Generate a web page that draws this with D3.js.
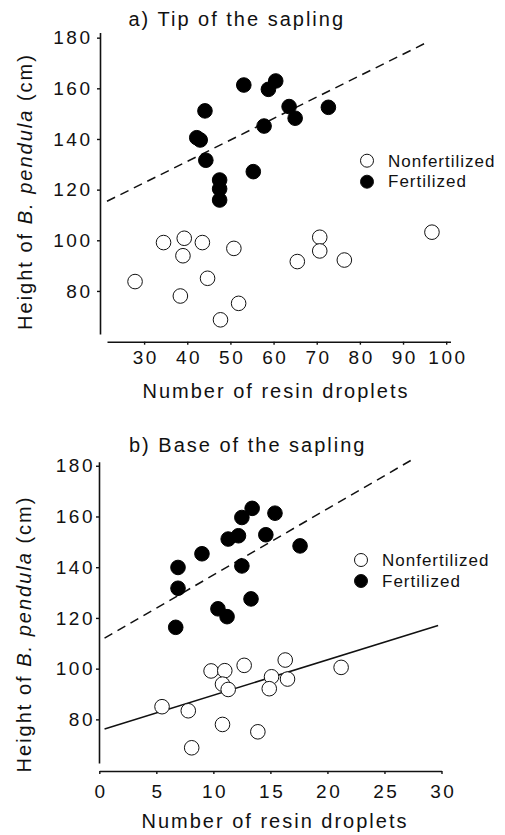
<!DOCTYPE html>
<html>
<head>
<meta charset="utf-8">
<script src="https://cdn.jsdelivr.net/npm/d3@7"></script>
<style>
  body { margin: 0; background: #fff; }
  svg text { font-family: "Liberation Sans", Arial, sans-serif; fill: #111; }
</style>
</head>
<body>
<div id="chart"></div>
<script>
// --- data ---
const yTicks = [80, 100, 120, 140, 160, 180];
const xTicksA = [30, 40, 50, 60, 70, 80, 90, 100];
const xTicksB = [0, 5, 10, 15, 20, 25, 30];
const legendLabels = ['Nonfertilized', 'Fertilized'];

// a) tip of the sapling
const tipFertX = [53.1, 58.8, 60.5, 44.1, 63.6, 65.0, 72.7, 57.8, 42.2, 43.0, 44.3, 55.3, 47.5, 47.5, 47.5];
const tipFertY = [161.3, 159.6, 162.9, 151.1, 152.8, 148.2, 152.5, 145.1, 140.5, 139.6, 131.6, 127.1, 123.8, 120.3, 115.9];
const tipNonX = [27.9, 34.5, 39.3, 39.0, 43.5, 38.4, 44.7, 47.7, 50.8, 51.9, 65.5, 70.7, 70.7, 76.4, 96.7];
const tipNonY = [83.7, 99.1, 100.8, 93.9, 99.1, 78.0, 85.0, 68.6, 96.8, 75.1, 91.6, 101.2, 95.8, 92.2, 103.2];
const tipFertLine = [[21.4, 115.4], [95.6, 178.2]];

// b) base of the sapling
const baseFertX = [6.9, 6.9, 6.7, 9.0, 12.5, 13.4, 15.4, 11.3, 12.2, 14.6, 12.5, 10.4, 11.2, 13.3, 17.6];
const baseFertY = [139.9, 131.7, 116.3, 145.3, 159.6, 163.2, 161.3, 151.1, 152.4, 152.8, 140.5, 123.6, 120.5, 127.5, 148.4];
const baseNonX = [5.5, 7.8, 8.1, 9.8, 11.0, 10.8, 11.3, 12.7, 10.8, 13.9, 15.1, 14.9, 16.3, 16.5, 21.2];
const baseNonY = [85.0, 83.4, 68.8, 99.1, 99.2, 93.9, 91.8, 101.3, 78.0, 75.1, 96.8, 92.1, 103.4, 95.9, 100.5];
const baseFertLine = [[0.46, 112.0], [27.5, 182.6]];
const baseNonLine = [[0.46, 76.2], [29.7, 117.0]];

const WIDTH = 505;
const HEIGHT = 835;

const svg = d3.select('#chart').append('svg')
  .attr('width', WIDTH)
  .attr('height', HEIGHT);

const zip = (xs, ys) => xs.map((x, i) => ({ x: x, y: ys[i] }));

function drawPanel(p) {
  const g = svg.append('g');

  const x = d3.scaleLinear().domain(p.xDomain).range(p.xRange);
  const y = d3.scaleLinear().domain(p.yDomain).range(p.yRange);

  // axes
  const yAxis = g.append('g')
    .attr('transform', `translate(${p.yAxisX},0)`)
    .call(d3.axisLeft(y).tickValues(yTicks).tickSize(3).tickSizeOuter(0).tickPadding(p.yPad));
  const xAxis = g.append('g')
    .attr('transform', `translate(0,${p.xAxisY})`)
    .call(d3.axisBottom(x).tickValues(p.xTicks).tickSize(3).tickSizeOuter(0).tickPadding(p.xPad));

  [yAxis, xAxis].forEach(a => {
    a.select('.domain').attr('stroke', '#111').attr('stroke-width', 1.6);
    a.selectAll('.tick line').attr('stroke', '#111').attr('stroke-width', 1.4);
    a.selectAll('.tick text')
      .attr('fill', '#111')
      .style('font-size', '19px')
      .style('letter-spacing', '2.5px')
      .style('font-family', '"Liberation Sans", Arial, sans-serif');
  });
  // letter-spacing leaves a trailing gap, recentre the labels
  xAxis.selectAll('.tick text').attr('dx', 1.25);

  // regression lines
  const line = d3.line().x(d => x(d[0])).y(d => y(d[1]));
  p.lines.forEach(l => {
    g.append('path')
      .attr('d', line(l.pts))
      .attr('fill', 'none')
      .attr('stroke', '#111')
      .attr('stroke-width', 1.5)
      .attr('stroke-dasharray', l.dashed ? '9,6' : null);
  });

  // points
  g.selectAll('circle.non')
    .data(p.non)
    .enter()
    .append('circle')
    .attr('class', 'non')
    .attr('cx', d => x(d.x))
    .attr('cy', d => y(d.y))
    .attr('r', 7.3)
    .attr('fill', '#fff')
    .attr('stroke', '#111')
    .attr('stroke-width', 1);

  g.selectAll('circle.fert')
    .data(p.fert)
    .enter()
    .append('circle')
    .attr('class', 'fert')
    .attr('cx', d => x(d.x))
    .attr('cy', d => y(d.y))
    .attr('r', 7.3)
    .attr('fill', '#000')
    .attr('stroke', '#000')
    .attr('stroke-width', 1);

  // title
  g.append('text')
    .attr('x', p.titleX)
    .attr('y', p.titleY)
    .style('font-size', '20px')
    .style('letter-spacing', '2px')
    .text(p.title);

  // axis titles
  g.append('text')
    .attr('x', p.xTitleX)
    .attr('y', p.xTitleY)
    .attr('text-anchor', 'middle')
    .style('font-size', '20px')
    .style('letter-spacing', '2px')
    .text('Number of resin droplets');

  const yt = g.append('text')
    .attr('transform', `translate(${p.yTitleX},${p.yTitleY}) rotate(-90)`)
    .attr('text-anchor', 'middle')
    .style('font-size', '20px')
    .style('letter-spacing', '2px');
  yt.append('tspan').text('Height of ');
  yt.append('tspan').style('font-style', 'italic').text('B. pendula');
  yt.append('tspan').text(' (cm)');

  // legend
  const legend = g.append('g')
    .attr('transform', `translate(${p.legendX},${p.legendY})`);
  legend.selectAll('circle')
    .data(legendLabels)
    .enter()
    .append('circle')
    .attr('cx', 0)
    .attr('cy', (d, i) => i * 21)
    .attr('r', 6.5)
    .attr('fill', (d, i) => i === 0 ? '#fff' : '#000')
    .attr('stroke', '#111')
    .attr('stroke-width', 1);
  legend.selectAll('text')
    .data(legendLabels)
    .enter()
    .append('text')
    .attr('x', 21)
    .attr('y', (d, i) => i * 20.5 + 6.3)
    .style('font-size', '17px')
    .style('letter-spacing', '1px')
    .text(d => d);
}

drawPanel({
  title: 'a) Tip of the sapling',
  xDomain: [21.4, 101], xRange: [107, 450.5],
  yDomain: [63, 182], yRange: [334, 32.6],
  yAxisX: 100, xAxisY: 341.7, yPad: 4.5, xPad: 6,
  xTicks: xTicksA,
  non: zip(tipNonX, tipNonY),
  fert: zip(tipFertX, tipFertY),
  lines: [{ pts: tipFertLine, dashed: true }],
  titleX: 128.5, titleY: 26,
  xTitleX: 276, xTitleY: 398.3,
  yTitleX: 31.5, yTitleY: 191.5,
  legendX: 367, legendY: 160.7
});

drawPanel({
  title: 'b) Base of the sapling',
  xDomain: [0, 30], xRange: [99.3, 441.5],
  yDomain: [62.8, 181.6], yRange: [763, 461.7],
  yAxisX: 99, xAxisY: 771, yPad: 1, xPad: 11,
  xTicks: xTicksB,
  non: zip(baseNonX, baseNonY),
  fert: zip(baseFertX, baseFertY),
  lines: [{ pts: baseFertLine, dashed: true }, { pts: baseNonLine, dashed: false }],
  titleX: 129, titleY: 451.7,
  xTitleX: 275, xTitleY: 828.3,
  yTitleX: 31, yTitleY: 634,
  legendX: 361, legendY: 560
});
</script>
</body>
</html>
